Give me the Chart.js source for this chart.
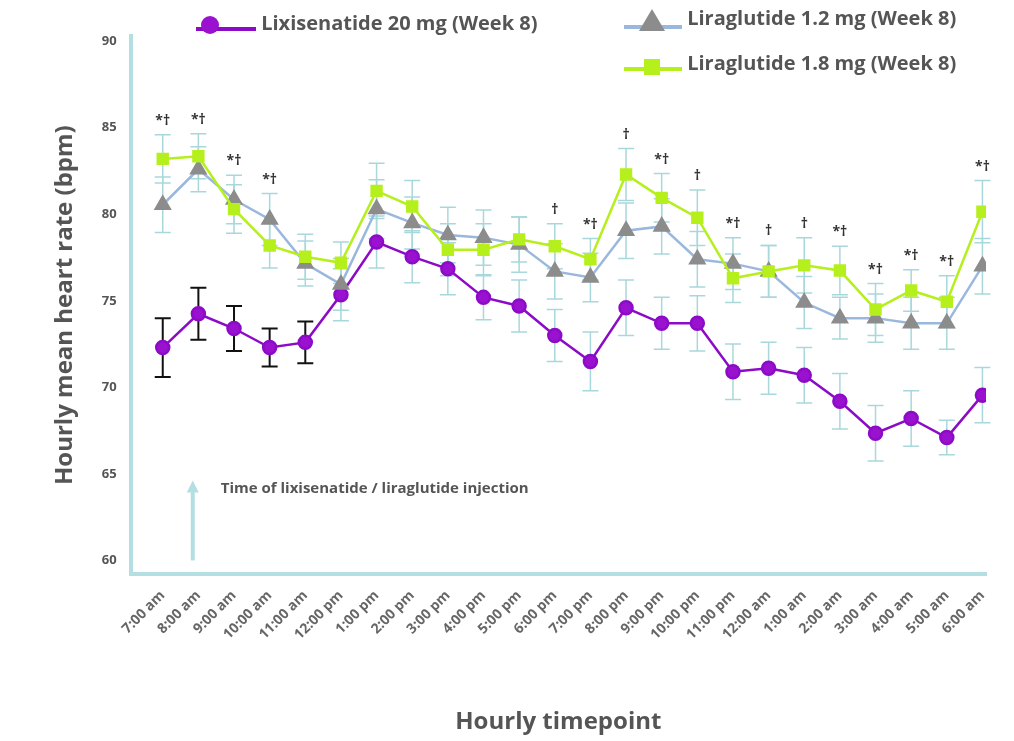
<!DOCTYPE html>
<html><head><meta charset="utf-8">
<script src="https://cdn.jsdelivr.net/npm/chart.js@4/dist/chart.umd.min.js"></script>
<style>
body{margin:0;background:#fff;font-family:"Open Sans",sans-serif}
#wrap{position:relative;width:1014px;height:741px}
.leg{position:absolute;font-weight:bold;font-size:20px;color:#555;white-space:nowrap}
</style></head><body>
<div id="wrap"><canvas id="c" width="1014" height="741"></canvas></div>
<script>
const categories = ["7:00 am","8:00 am","9:00 am","10:00 am","11:00 am","12:00 pm","1:00 pm","2:00 pm","3:00 pm","4:00 pm","5:00 pm","6:00 pm","7:00 pm","8:00 pm","9:00 pm","10:00 pm","11:00 pm","12:00 am","1:00 am","2:00 am","3:00 am","4:00 am","5:00 am","6:00 am"];
const lixi = [72.3,74.25,73.4,72.3,72.6,75.35,78.4,77.55,76.85,75.2,74.7,73.0,71.5,74.6,73.7,73.7,70.9,71.1,70.7,69.2,67.35,68.2,67.1,69.55];
const lixiErr = [1.7,1.5,1.3,1.1,1.2,1.5,1.5,1.5,1.5,1.3,1.5,1.5,1.7,1.6,1.5,1.6,1.6,1.5,1.6,1.6,1.6,1.6,1.0,1.6];
const lira12 = [80.55,82.6,80.85,79.7,77.15,75.95,80.3,79.5,78.8,78.65,78.25,76.7,76.35,79.05,79.3,77.4,77.15,76.7,74.9,74.0,74.0,73.7,73.7,77.0];
const lira12Err = [1.6,1.3,1.4,1.5,1.3,1.5,1.7,1.5,1.6,1.6,1.6,1.6,1.4,1.6,1.6,1.6,1.5,1.5,1.5,1.2,1.4,1.5,1.5,1.6];
const lira18 = [83.2,83.35,80.3,78.2,77.55,77.2,81.35,80.45,77.95,77.95,78.55,78.15,77.4,82.3,80.95,79.8,76.3,76.7,77.05,76.75,74.5,75.6,74.95,80.15];
const lira18Err = [1.4,1.3,1.4,1.3,1.3,1.2,1.6,1.5,1.5,1.5,1.3,1.3,1.2,1.5,1.4,1.6,1.4,1.5,1.6,1.4,1.5,1.2,1.5,1.8];
const marks = ["*†","*†","*†","*†","","","","","","","","†","*†","†","*†","†","*†","†","†","*†","*†","*†","*†","*†"];
const yTicks = [60,65,70,75,80,85,90];

const AX = '#b3dfe3';
const pts = arr => arr.map((v,i)=>({x:i,y:v}));

const errPlugin = {
  id:'err',
  beforeDatasetsDraw(chart){
    const {ctx, scales:{x,y}} = chart;
    const sets = [[lira18,lira18Err],[lira12,lira12Err],[lixi,lixiErr]];
    ctx.save();
    sets.forEach(([v,e],si)=>{
      v.forEach((val,i)=>{
        ctx.strokeStyle = (si===2 && i<5) ? '#111' : '#a8d8dc';
        ctx.lineWidth = (si===2 && i<5) ? 2 : 1.5;
        const px = x.getPixelForValue(i), t = y.getPixelForValue(val+e[i]), b = y.getPixelForValue(val-e[i]);
        ctx.beginPath(); ctx.moveTo(px,t); ctx.lineTo(px,b);
        ctx.moveTo(px-8,t); ctx.lineTo(px+8,t); ctx.moveTo(px-8,b); ctx.lineTo(px+8,b); ctx.stroke();
      });
    });
    ctx.restore();
  },
  afterDraw(chart){
    const {ctx, scales:{x,y}} = chart;
    ctx.save();
    ctx.fillStyle = '#333'; ctx.font = 'bold 14px "Open Sans"'; ctx.textAlign='center';
    marks.forEach((m,i)=>{
      if(!m) return;
      const top = Math.max(lira12[i]+lira12Err[i], lira18[i]+lira18Err[i]);
      ctx.fillText(m, x.getPixelForValue(i), y.getPixelForValue(top)-10);
    });
    // injection arrow
    const ax = x.getPixelForValue(0)+30, y0 = y.getPixelForValue(60), y1 = y.getPixelForValue(64.5);
    ctx.strokeStyle = AX; ctx.fillStyle = AX; ctx.lineWidth = 4;
    ctx.beginPath(); ctx.moveTo(ax,y0); ctx.lineTo(ax,y1+8); ctx.stroke();
    ctx.beginPath(); ctx.moveTo(ax-6,y1+10); ctx.lineTo(ax+6,y1+10); ctx.lineTo(ax,y1-2); ctx.fill();
    ctx.fillStyle = '#555'; ctx.textAlign='left'; ctx.font = 'bold 15px "Open Sans"';
    ctx.fillText('Time of lixisenatide / liraglutide injection', ax+28, y1+10);
    ctx.restore();
  }
};

new Chart(document.getElementById('c'), {
  type:'line',
  data:{datasets:[
    {label:'Liraglutide 1.8 mg (Week 8)', data:pts(lira18), borderColor:'#b5ef1c', backgroundColor:'#b5ef1c', pointStyle:'rect', pointRadius:7, borderWidth:2.5},
    {label:'Liraglutide 1.2 mg (Week 8)', data:pts(lira12), borderColor:'#9ab8de', backgroundColor:'#8c8c8c', pointStyle:'triangle', pointRadius:8, pointBorderColor:'#8c8c8c', borderWidth:2.5},
    {label:'Lixisenatide 20 mg (Week 8)', data:pts(lixi), borderColor:'#8b0bc6', backgroundColor:'#9a11d0', pointStyle:'circle', pointRadius:6.5, borderWidth:2.5}
  ]},
  options:{
    responsive:false, animation:false,
    layout:{padding:{top:36,right:28,left:47,bottom:0}},
    plugins:{legend:{display:false},tooltip:{enabled:false}},
    scales:{
      x:{type:'linear', min:-0.9, max:23.1,
        afterBuildTicks:s=>{s.ticks=categories.map((c,i)=>({value:i}));},
        ticks:{callback:v=>categories[v], maxRotation:45, minRotation:45, color:'#666', font:{size:14,weight:'bold',family:'"Open Sans"'}, autoSkip:false},
        grid:{display:false, drawTicks:true, tickLength:10, tickColor:AX, tickWidth:3},
        border:{color:AX,width:4},
        title:{display:true,text:'Hourly timepoint',color:'#555',font:{size:24,weight:'bold',family:'"Open Sans"'},padding:{top:62,bottom:4}}
      },
      y:{min:59.2, max:90.3,
        afterBuildTicks:s=>{s.ticks=yTicks.map(v=>({value:v}));},
        ticks:{color:'#555', font:{size:13,weight:'bold',family:'"Open Sans"'}, padding:4},
        grid:{display:false, drawTicks:true, tickLength:10, tickColor:AX, tickWidth:3},
        border:{color:AX,width:4},
        title:{display:true,text:'Hourly mean heart rate (bpm)',color:'#555',font:{size:24,weight:'bold',family:'"Open Sans"'},padding:{bottom:18}}
      }
    }
  },
  plugins:[errPlugin]
});
</script>
<div class="leg" style="left:196px;top:9px"><svg width="60" height="24" style="vertical-align:middle"><line x1="0" y1="16" x2="60" y2="16" stroke="#8b0bc6" stroke-width="4"/><circle cx="14" cy="12" r="9" fill="#9a11d0"/></svg> Lixisenatide 20 mg (Week 8)</div>
<div class="leg" style="left:624px;top:4px"><svg width="58" height="26" style="vertical-align:middle"><line x1="0" y1="20" x2="58" y2="20" stroke="#9ab8de" stroke-width="4"/><polygon points="28,2 41,24 15,24" fill="#8c8c8c"/></svg> Liraglutide 1.2 mg (Week 8)</div>
<div class="leg" style="left:624px;top:49px"><svg width="58" height="24" style="vertical-align:middle"><line x1="0" y1="16" x2="58" y2="16" stroke="#b5ef1c" stroke-width="4"/><rect x="20" y="6" width="16" height="16" fill="#b5ef1c"/></svg> Liraglutide 1.8 mg (Week 8)</div>
</body></html>
